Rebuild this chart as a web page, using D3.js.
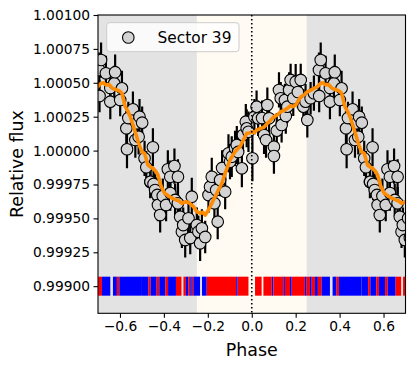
<!DOCTYPE html>
<html><head><meta charset="utf-8">
<script src="https://cdn.jsdelivr.net/npm/d3@7"></script>
<style>html,body{margin:0;padding:0;background:#fff;}svg{display:block;font-family:"DejaVu Sans",sans-serif;}</style>
</head><body><svg id="c" width="415" height="369"></svg>
<script>
// ---- data (one period, phase in [-0.5, 0.5); the plot shows it wrapped over [-0.7, 0.7]) ----
const pointPhase = [-0.499,-0.488,-0.480,-0.462,-0.461,-0.450,-0.447,-0.440,-0.430,-0.427,-0.417,-0.405,-0.390,-0.382,-0.371,-0.371,-0.352,-0.349,-0.336,-0.336,-0.326,-0.318,-0.312,-0.303,
  -0.288,-0.280,-0.273,-0.250,-0.243,-0.235,-0.227,-0.212,-0.197,-0.190,-0.182,-0.170,-0.162,-0.155,-0.144,-0.135,-0.121,-0.106,-0.099,-0.091,-0.076,-0.068,-0.062,-0.045,-0.040,-0.027,-0.023,-0.015,
  0.003,0.012,0.022,0.029,0.047,0.056,0.065,0.071,0.079,0.101,0.101,0.114,0.124,0.132,0.136,0.151,0.155,0.162,0.170,0.177,0.189,0.200,0.210,0.223,0.235,0.245,0.253,0.268,0.283,
  0.306,0.307,0.314,0.336,0.356,0.356,0.374,0.378,0.401,0.409,0.429,0.432,0.438,0.459,0.470,0.477,0.485,0.489];
const pointFlux = [1.000206,0.999943,0.999877,0.999768,0.999771,1.000024,0.999754,0.999709,0.999673,0.999599,0.999525,0.999665,0.999599,0.999862,0.999807,0.999687,0.999886,0.999636,0.999807,0.999611,0.999512,0.999402,0.999451,0.999341,
  0.999501,0.999355,0.999660,0.999451,0.999402,0.999316,0.999427,0.999363,0.999672,0.999734,0.999807,0.999611,0.999709,0.999476,0.999783,0.999872,0.999697,0.999980,0.999918,0.999955,1.000017,1.000041,0.999990,0.999869,1.000115,1.000213,1.000164,1.000139,
  0.999943,1.000250,1.000324,1.000238,1.000240,1.000115,1.000078,1.000336,1.000238,1.000029,0.999960,1.000147,1.000447,1.000386,1.000189,1.000373,1.000255,1.000324,1.000447,1.000521,1.000386,1.000508,1.000432,1.000521,1.000324,1.000361,1.000226,1.000386,1.000423,
  1.000594,1.000403,1.000668,1.000570,1.000361,1.000462,1.000496,1.000578,1.000373,1.000459,1.000164,1.000010,1.000240,1.000305,1.000078,1.000201,1.000102,1.000250];
const pointErr = [0.00012,0.00013,0.00012,0.00012,0.00012,0.00014,0.00012,0.00012,0.00013,0.00012,0.00013,0.00013,0.00012,0.00014,0.00012,0.00013,0.00013,0.00012,0.00013,0.00012,0.00013,0.00012,0.00013,0.00013,
  0.00013,0.00012,0.00014,0.00013,0.00012,0.00013,0.00014,0.00012,0.00013,0.00012,0.00014,0.00013,0.00012,0.00013,0.00012,0.00013,0.00013,0.00014,0.00013,0.00015,0.00013,0.00014,0.00013,0.00014,0.00013,0.00013,0.00014,0.00015,
  0.00017,0.00013,0.00012,0.00013,0.00013,0.00014,0.00013,0.00013,0.00014,0.00013,0.00013,0.00013,0.00013,0.00012,0.00013,0.00012,0.00013,0.00012,0.00013,0.00012,0.00013,0.00013,0.00012,0.00012,0.00013,0.00013,0.00013,0.00012,0.00013,
  0.00013,0.00012,0.00013,0.00013,0.00013,0.00012,0.00013,0.00013,0.00012,0.00013,0.00013,0.00014,0.00012,0.00013,0.00013,0.00013,0.00013,0.00013];

const trendPhase = [-0.500,-0.488,-0.473,-0.462,-0.450,-0.438,-0.427,-0.412,-0.397,-0.385,-0.375,-0.360,-0.344,-0.330,-0.318,-0.303,-0.288,-0.275,-0.265,-0.250,-0.235,-0.222,-0.212,-0.197,-0.182,-0.170,-0.159,-0.147,-0.136,-0.121,-0.110,-0.099,-0.087,-0.076,-0.065,-0.053,-0.038,-0.023,-0.010,
  0.000,0.012,0.023,0.041,0.055,0.071,0.085,0.101,0.116,0.132,0.147,0.162,0.175,0.185,0.200,0.212,0.223,0.238,0.253,0.268,0.283,0.298,0.314,0.325,0.336,0.350,0.366,0.386,0.398,0.409,0.424,0.436,0.447,0.462,0.475,0.485];
const trendFlux = [0.999990,0.999980,0.999894,0.999880,0.999869,0.999850,0.999820,0.999734,0.999685,0.999672,0.999660,0.999648,0.999636,0.999628,0.999611,0.999622,0.999619,0.999600,0.999586,0.999549,0.999538,0.999545,0.999525,0.999562,0.999611,0.999650,0.999685,0.999725,0.999759,0.999833,0.999880,0.999931,0.999962,0.999992,1.000012,1.000029,1.000078,1.000128,1.000130,
  1.000139,1.000132,1.000152,1.000164,1.000172,1.000201,1.000222,1.000250,1.000262,1.000287,1.000296,1.000312,1.000330,1.000324,1.000336,1.000368,1.000397,1.000410,1.000434,1.000444,1.000459,1.000470,1.000496,1.000500,1.000484,1.000488,1.000459,1.000447,1.000440,1.000423,1.000324,1.000290,1.000250,1.000176,1.000110,1.000054];

const stripeStart = [-0.500,-0.470,-0.460,-0.433,-0.421,-0.393,-0.381,-0.345,-0.311,-0.300,-0.288,-0.280,-0.273,-0.266,-0.227,-0.205,-0.071,-0.064,
  0.015,0.053,0.091,0.098,0.144,0.151,0.174,0.182,0.242,0.250,0.265,0.273,0.288,0.301,0.318,0.368,0.386,0.397];
const stripeEnd   = [-0.470,-0.460,-0.433,-0.421,-0.393,-0.381,-0.345,-0.320,-0.300,-0.288,-0.280,-0.273,-0.266,-0.235,-0.205,-0.071,-0.064,-0.015,
  0.045,0.091,0.098,0.144,0.151,0.174,0.182,0.242,0.250,0.265,0.273,0.288,0.301,0.318,0.356,0.386,0.397,0.500];
const stripeKind  = ["b","r","b","r","b","r","b","r","r","b","r","b","r","b","b","r","b","r",
  "r","r","b","r","b","r","b","r","b","r","b","r","b","r","b","b","r","b"];

const xTicks = [-0.6,-0.4,-0.2,0.0,0.2,0.4,0.6];
const yTicks = [0.99900,0.99925,0.99950,0.99975,1.00000,1.00025,1.00050,1.00075,1.00100];
const stripeLevel = 0.99900, stripeHalf = 0.00007;
const legendLabel = "Sector 39";

// ---- drawing ----
const svg = d3.select("#c");
const x = d3.scaleLinear().domain([-0.7,0.7]).range([98,405.5]);
const y = d3.scaleLinear().domain([0.9988,1.0010]).range([313.3,15]);
const [x0,x1] = x.range(), [y0,y1] = [y.range()[1], y.range()[0]];
const kindColor = d3.scaleOrdinal().domain(["r","b"]).range(["#ff0000","#0000ff"]);

svg.append("defs").append("clipPath").attr("id","clip").append("rect")
  .attr("x",x0).attr("y",y0).attr("width",x1-x0).attr("height",y1-y0);
const g = svg.append("g").attr("clip-path","url(#clip)");

const shifts = [-1,0,1];
function wrapped(ph){
  const out=[];
  shifts.forEach(s=>ph.forEach((p,i)=>{const q=p+s; if(q>-0.75&&q<0.75) out.push({p:q,i});}));
  return out;
}

// backgrounds
g.append("rect").attr("x",x0).attr("y",y0).attr("width",x1-x0).attr("height",y1-y0).attr("fill","#e3e3e3");
g.append("rect").attr("x",x(-0.25)).attr("y",y0).attr("width",x(0.25)-x(-0.25)).attr("height",y1-y0).attr("fill","#fffaf2");

// stripes
const stripes=[];
shifts.forEach(s=>stripeStart.forEach((a,i)=>stripes.push({a:a+s,b:stripeEnd[i]+s,k:stripeKind[i]})));
g.selectAll("rect.st").data(stripes.filter(d=>d.b>-0.75&&d.a<0.75)).enter().append("rect").attr("class","st")
  .attr("x",d=>x(d.a)).attr("width",d=>Math.max(0.8,x(d.b)-x(d.a)))
  .attr("y",y(stripeLevel+stripeHalf)).attr("height",y(stripeLevel-stripeHalf)-y(stripeLevel+stripeHalf))
  .attr("fill",d=>kindColor(d.k));

// points
const pts = wrapped(pointPhase).map(d=>({p:d.p,f:pointFlux[d.i],e:pointErr[d.i]}));
g.selectAll("line.eb").data(pts).enter().append("line").attr("class","eb")
  .attr("x1",d=>x(d.p)).attr("x2",d=>x(d.p)).attr("y1",d=>y(d.f-d.e)).attr("y2",d=>y(d.f+d.e))
  .attr("stroke","#000").attr("stroke-width",2.2);
g.selectAll("circle.pt").data(pts).enter().append("circle").attr("class","pt")
  .attr("cx",d=>x(d.p)).attr("cy",d=>y(d.f)).attr("r",5.8)
  .attr("fill","#d3d3d3").attr("stroke","#000").attr("stroke-width",1.1);

// trend line
const tr = wrapped(trendPhase).map(d=>({p:d.p,f:trendFlux[d.i]})).sort((a,b)=>a.p-b.p);
g.append("path").datum(tr).attr("fill","none").attr("stroke","#ff8c00").attr("stroke-width",3.6)
  .attr("stroke-linejoin","round")
  .attr("d",d3.line().x(d=>x(d.p)).y(d=>y(d.f)));

// dotted zero line
g.append("line").attr("x1",x(0)).attr("x2",x(0)).attr("y1",y0).attr("y2",y1)
  .attr("stroke","#000").attr("stroke-width",1.6).attr("stroke-dasharray","1.6,2.4");

// axes
const fmtY = d3.format(".5f"), fmtX = d3.format(".1f");
const ax = svg.append("g").attr("transform",`translate(0,${y1})`)
  .call(d3.axisBottom(x).tickValues(xTicks).tickFormat(fmtX).tickSize(4.5).tickPadding(3.5));
const ay = svg.append("g").attr("transform",`translate(${x0},0)`)
  .call(d3.axisLeft(y).tickValues(yTicks).tickFormat(fmtY).tickSize(4.5).tickPadding(3.5));
[ax,ay].forEach(a=>{a.select(".domain").remove();
  a.selectAll("text").attr("font-family","DejaVu Sans").attr("font-size",13.8).attr("fill","#000");
  a.selectAll("line").attr("stroke","#000").attr("stroke-width",1.1);});
svg.append("rect").attr("x",x0).attr("y",y0).attr("width",x1-x0).attr("height",y1-y0)
  .attr("fill","none").attr("stroke","#000").attr("stroke-width",1.1);

svg.append("text").attr("x",(x0+x1)/2).attr("y",350).attr("text-anchor","middle").attr("dominant-baseline","central")
  .attr("font-size",17.4).text("Phase");
svg.append("text").attr("transform",`translate(17,${(y0+y1)/2}) rotate(-90)`).attr("text-anchor","middle")
  .attr("dominant-baseline","central").attr("font-size",17.4).text("Relative flux");

// legend
const lg = svg.append("g");
lg.append("rect").attr("x",106.7).attr("y",22.7).attr("width",132.3).attr("height",29).attr("rx",3)
  .attr("fill","#fff").attr("fill-opacity",0.8).attr("stroke","#cccccc").attr("stroke-width",1);
lg.append("circle").attr("cx",128.3).attr("cy",37.5).attr("r",5.8).attr("fill","#d3d3d3").attr("stroke","#000").attr("stroke-width",1.1);
lg.append("text").attr("x",157.5).attr("y",37.5).attr("dominant-baseline","central").attr("font-size",15.4).text(legendLabel);
</script></body></html>
